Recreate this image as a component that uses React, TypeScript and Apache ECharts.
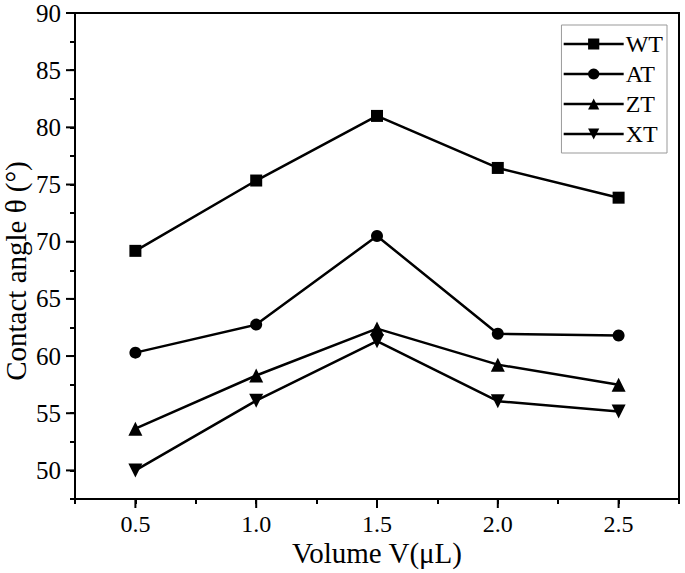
import React, { useEffect, useRef } from "react";
import * as echarts from "echarts";

const volumes = [0.5, 1.0, 1.5, 2.0, 2.5];
const seriesNames = ["WT", "AT", "ZT", "XT"];
const wt = [69.2, 75.35, 81.0, 76.45, 73.85];
const at = [60.3, 62.75, 70.5, 61.95, 61.8];
const zt = [53.65, 58.3, 62.4, 59.25, 57.5];
const xt = [50.0, 56.1, 61.3, 56.05, 55.15];
const xMajorTicks = [0.5, 1.0, 1.5, 2.0, 2.5];
const yMajorTicks = [50, 55, 60, 65, 70, 75, 80, 85, 90];
const X_MIN = 0.25;
const X_MAX = 2.75;
const Y_MIN = 47.5;
const Y_MAX = 90;

const FONT = "'Liberation Serif', 'Times New Roman', serif";

export default function App() {
  const ref = useRef<HTMLDivElement>(null);
  useEffect(() => {
    if (!ref.current) return;
    const chart = echarts.init(ref.current, null, { renderer: "svg" });
    const mk = (name: string, vals: number[], symbol: string, size: number, rotate = 0) => ({
      name,
      type: "line",
      data: volumes.map((v, i) => [v, vals[i]]),
      symbol,
      symbolSize: size,
      symbolRotate: rotate,
      lineStyle: { color: "#000", width: 2.5 },
      itemStyle: { color: "#000" },
      z: 3,
    });
    const option: any = {
      animation: false,
      grid: {
        left: 75,
        right: 6,
        top: 13,
        bottom: 74,
        show: true,
        borderColor: "#000",
        borderWidth: 2,
        containLabel: false,
        outerBoundsMode: "none",
      },
      legend: {
        data: seriesNames,
        orient: "vertical",
        right: 18,
        top: 25,
        padding: [7, 4, 7, 1],
        itemWidth: 60,
        itemHeight: 14,
        itemGap: 6,
        borderColor: "#999",
        borderWidth: 1,
        backgroundColor: "#fff",
        lineStyle: { width: 2.5, color: "#000" },
        textStyle: { fontFamily: FONT, fontSize: 24, color: "#000", padding: [0, 0, 0, -3] },
      },
      xAxis: {
        type: "value",
        min: X_MIN,
        max: X_MAX,
        interval: 0.25,
        name: "Volume V(\u03bcL)",
        nameLocation: "middle",
        nameGap: 39,
        nameMoveOverlap: false,
        nameTextStyle: { fontFamily: FONT, fontSize: 29, color: "#000" },
        axisLine: { show: true, lineStyle: { color: "#000", width: 2 } },
        axisTick: { show: true, length: 5, lineStyle: { color: "#000", width: 2 } },
        axisLabel: {
          fontFamily: FONT,
          fontSize: 24,
          color: "#000",
          margin: 13,
          formatter: (v: number) =>
            Math.abs(v * 2 - Math.round(v * 2)) < 1e-6 ? v.toFixed(1) : "",
        },
        splitLine: { show: false },
      },
      yAxis: {
        type: "value",
        min: Y_MIN,
        max: Y_MAX,
        interval: 2.5,
        name: "Contact angle \u03b8 (\u00b0)",
        nameLocation: "middle",
        nameGap: 45,
        nameMoveOverlap: false,
        nameTextStyle: { fontFamily: FONT, fontSize: 29, color: "#000", padding: [0, 30, 0, 0] },
        axisLine: { show: true, lineStyle: { color: "#000", width: 2 } },
        axisTick: { show: true, length: 5, lineStyle: { color: "#000", width: 2 } },
        axisLabel: {
          fontFamily: FONT,
          fontSize: 25,
          color: "#000",
          margin: 14,
          formatter: (v: number) =>
            Math.abs(v / 5 - Math.round(v / 5)) < 1e-6 ? String(Math.round(v)) : "",
        },
        splitLine: { show: false },
      },
      series: [
        mk("WT", wt, "rect", 12),
        mk("AT", at, "circle", 12),
        mk("ZT", zt, "triangle", 14),
        mk("XT", xt, "triangle", 14, 180),
        {
          type: "custom",
          silent: true,
          clip: false,
          data: xMajorTicks.map((v) => [v, Y_MIN]),
          encode: { x: 0, y: 1 },
          renderItem: (_p: any, api: any) => {
            const p = api.coord([api.value(0), api.value(1)]);
            return {
              type: "line",
              shape: { x1: p[0], y1: p[1], x2: p[0], y2: p[1] + 9 },
              style: { stroke: "#000", lineWidth: 2 },
            };
          },
          z: 4,
        },
        {
          type: "custom",
          silent: true,
          clip: false,
          data: yMajorTicks.map((v) => [X_MIN, v]),
          encode: { x: 0, y: 1 },
          renderItem: (_p: any, api: any) => {
            const p = api.coord([api.value(0), api.value(1)]);
            return {
              type: "line",
              shape: { x1: p[0], y1: p[1], x2: p[0] - 9, y2: p[1] },
              style: { stroke: "#000", lineWidth: 2 },
            };
          },
          z: 4,
        },
      ],
    };
    chart.setOption(option);
    return () => chart.dispose();
  }, []);
  return <div ref={ref} style={{ width: 685, height: 573, position: "fixed", left: 0, top: 0, background: "#fff" }} />;
}
